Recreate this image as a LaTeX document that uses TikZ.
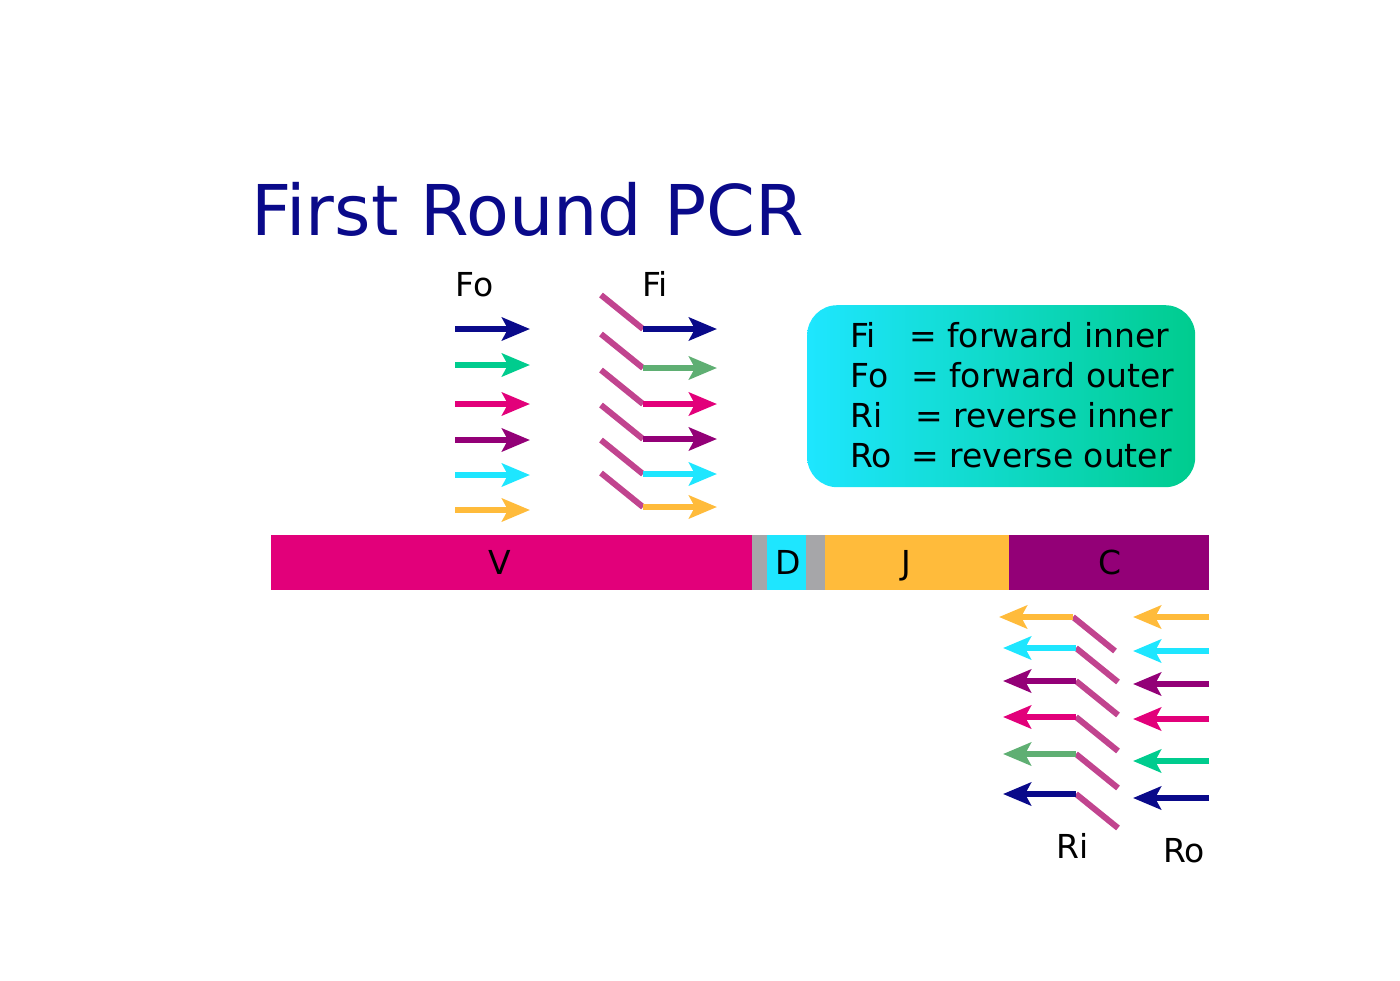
\documentclass[tikz,border=0pt]{standalone}
\usepackage{fontspec}
\setmainfont{DejaVu Sans}
\usetikzlibrary{arrows.meta}
\usetikzlibrary{positioning}

\definecolor{navy}{RGB}{10,10,138}
\definecolor{teal}{RGB}{0,204,142}
\definecolor{mag}{RGB}{226,0,122}
\definecolor{purp}{RGB}{147,0,119}
\definecolor{cyan}{RGB}{30,230,255}
\definecolor{orange}{RGB}{255,187,59}
\definecolor{leaf}{RGB}{95,175,115}
\definecolor{tailpink}{RGB}{193,68,143}
\definecolor{gap}{RGB}{166,166,169}

\begin{document}
\begin{tikzpicture}[x=1pt,y=-1pt,
        primer/.style={line width=6pt,-{Stealth[length=28pt,width=23pt,inset=6pt]}},
        tail/.style={line width=6pt,draw=tailpink},
        lbl/.style={font=\fontsize{33}{39}\selectfont,inner sep=0pt,anchor=base west},
        seg/.style={minimum height=55pt,inner sep=0pt,outer sep=0pt},
        seglbl/.style={font=\fontsize{33}{39}\selectfont,inner sep=0pt,anchor=base}]
        \useasboundingbox (0,0) rectangle (1400,980);

        \node[font=\fontsize{70}{80}\selectfont, text=navy, anchor=base west, inner sep=0pt] (title) at (251,235) {First Round PCR};

        \node[seg, fill=mag, minimum width=481pt, anchor=west] (V) at (271,562.5) {};
        \node[seg, fill=gap, minimum width=15pt, right=0pt of V] (g1) {};
        \node[seg, fill=cyan, minimum width=39pt, right=0pt of g1] (D) {};
        \node[seg, fill=gap, minimum width=19pt, right=0pt of D] (g2) {};
        \node[seg, fill=orange, minimum width=184pt, right=0pt of g2] (J) {};
        \node[seg, fill=purp, minimum width=200pt, right=0pt of J] (C) {};
        \node[seglbl] (V-lbl) at (500,574) {V};
        \node[seglbl] (D-lbl) at (788,574) {D};
        \node[seglbl] (J-lbl) at (906,574) {J};
        \node[seglbl] (C-lbl) at (1110,574) {C};

        \node[lbl] (Fo) at (455,296) {Fo};
        \node[lbl] (Fi) at (642,296) {Fi};
        \node[lbl] (Ri) at (1056,858) {Ri};
        \node[lbl] (Ro) at (1163,862) {Ro};

        \foreach \y/\c in {329/navy,365/teal,404/mag,440/purp,475/cyan,510/orange}
            \draw[primer,\c] (455,\y) -- (530,\y);

        \foreach \y/\c in {329/navy,368/leaf,404/mag,439/purp,474/cyan,507/orange} {
            \draw[tail] (601,\y-34) -- (643,\y);
            \draw[primer,\c] (643,\y) -- (717,\y);
        }

        \foreach \y/\j/\t/\c in {617/1073/999/orange,648/1076/1003/cyan,681/1076/1003/purp,
                                 717/1076/1003/mag,754/1076/1003/leaf,794/1076/1003/navy} {
            \draw[tail] (\j,\y) -- (\j+42,\y+34);
            \draw[primer,\c] (\j,\y) -- (\t,\y);
        }

        \foreach \y/\c in {617/orange,651/cyan,684/purp,719/mag,761/teal,798/navy}
            \draw[primer,\c] (1209,\y) -- (1133,\y);

        \node[rounded corners=30pt, left color=cyan, right color=teal, draw=none,
              minimum width=388pt, minimum height=182pt, anchor=north west] (legend) at (807,305) {};
        \foreach \k/\ex/\t/\y in {Fi/909/forward inner/347,Fo/911/forward outer/387,
                                  Ri/915/reverse inner/427,Ro/911/reverse outer/467} {
            \node[lbl] (key-\k) at (850,\y) {\k};
            \node[lbl] (def-\k) at (\ex,\y) {= \t};
        }
\end{tikzpicture}
\end{document}
